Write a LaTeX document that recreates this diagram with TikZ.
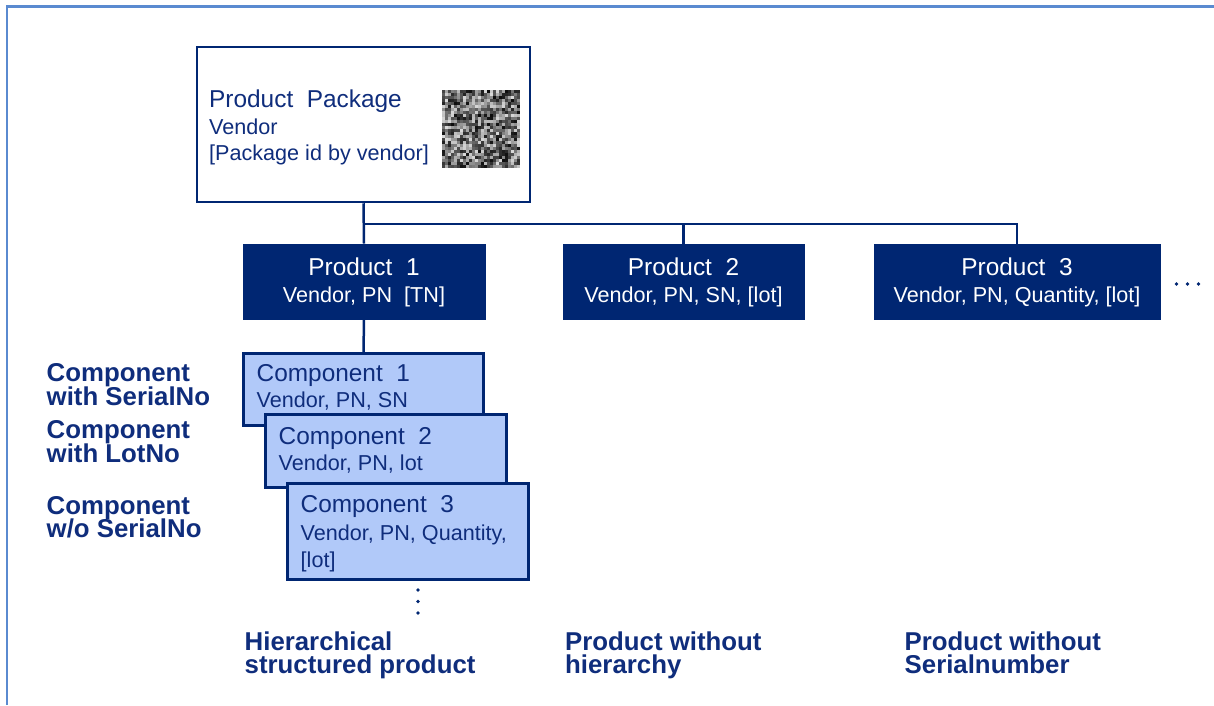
\documentclass[tikz,border=0pt]{standalone}
\usepackage{fontspec}
\setmainfont{Liberation Sans}
\definecolor{navy}{HTML}{002672}
\definecolor{framec}{HTML}{5A8AD0}
\definecolor{compc}{HTML}{B1C9F9}
\definecolor{txtc}{HTML}{0F2D7C}
\tikzset{
  pkgbox/.style={draw=navy, fill=white, line width=2.5pt, inner sep=0pt},
  prodbox/.style={draw=navy, fill=navy, line width=1pt, inner sep=0pt},
  compbox/.style={draw=navy, fill=compc, line width=3pt, inner sep=0pt},
  conn/.style={draw=navy, line width=2.5pt},
  ttl/.style={font=\fontsize{24.4}{28}\selectfont, inner sep=0pt},
  sub/.style={font=\fontsize{21.6}{25}\selectfont, inner sep=0pt},
  lbl/.style={font=\fontsize{25.8}{23.3}\selectfont\bfseries, text=txtc, inner sep=0pt, anchor=base west},
  dotc/.style={fill=navy, draw=none},
}
\begin{document}
\begin{tikzpicture}[x=1pt,y=-1pt]
\useasboundingbox (0,0) rectangle (1214,705);
% frame
\draw[framec, line width=2.8pt] (7,705) -- (7,6.5) -- (1214,6.5);

% package box
\node[pkgbox, minimum width=333pt, minimum height=155pt] (pkg) at (363.5,124.5) {};
\node[ttl, text=txtc, anchor=base west] (pkgt) at (209,107.3) {Product\ \ Package};
\node[sub, text=txtc, anchor=base west] (pkgv) at (209,134) {Vendor};
\node[sub, text=txtc, anchor=base west] (pkgi) at (209,160.5) {[Package id by vendor]};
% QR-like pattern
\node[minimum width=78pt, minimum height=78pt, inner sep=0pt] (qr) at (480.5,128.5) {};
\pgfmathsetseed{11}
\foreach \i in {0,...,25}{
  \foreach \j in {0,...,25}{
    \pgfmathsetmacro\g{int(random(15,95))}
    \fill[black!\g] (441.5+\i*3,89.5+\j*3) rectangle ++(3,3);
  }
}

% products
\node[prodbox, minimum width=242pt, minimum height=75pt] (p1) at (364,281.5) {};
\node[prodbox, minimum width=241pt, minimum height=75pt] (p2) at (683.5,281.5) {};
\node[prodbox, minimum width=286pt, minimum height=75pt] (p3) at (1017,281.5) {};
\node[ttl, text=white, anchor=base] (p1t) at (364,275.7) {Product\ \ 1};
\node[sub, text=white, anchor=base] (p1s) at (364,302) {Vendor, PN\ \ [TN]};
\node[ttl, text=white, anchor=base] (p2t) at (683.5,275.7) {Product\ \ 2};
\node[sub, text=white, anchor=base] (p2s) at (683.5,302) {Vendor, PN, SN, [lot]};
\node[ttl, text=white, anchor=base] (p3t) at (1017,275.7) {Product\ \ 3};
\node[sub, text=white, anchor=base] (p3s) at (1017,302) {Vendor, PN, Quantity, [lot]};

% connectors
\coordinate (bus) at (363.5,224);
\draw[conn] (pkg.south) -- (p1.north);
\draw[conn] (bus) -| (p2.north);
\draw[conn] (bus) -| (p3.north);
\draw[conn] (p1.south) -- (363.5,352);

% components
\node[compbox, minimum width=240pt, minimum height=72pt] (c1) at (363.5,389) {};
\node[ttl, text=txtc, anchor=base west] (c1t) at (256.5,381.7) {Component\ \ 1};
\node[sub, text=txtc, anchor=base west] (c1s) at (256.5,407.3) {Vendor, PN, SN};
\node[compbox, minimum width=241pt, minimum height=73pt] (c2) at (385.5,451.3) {};
\node[ttl, text=txtc, anchor=base west] (c2t) at (278.5,444.3) {Component\ \ 2};
\node[sub, text=txtc, anchor=base west] (c2s) at (278.5,470.7) {Vendor, PN, lot};
\node[compbox, minimum width=241pt, minimum height=96pt] (c3) at (407.5,531.3) {};
\node[ttl, text=txtc, anchor=base west] (c3t) at (300.5,512.3) {Component\ \ 3};
\node[sub, text=txtc, anchor=base west] (c3s) at (300.5,540.7) {Vendor, PN, Quantity,};
\node[sub, text=txtc, anchor=base west] (c3l) at (300.5,567.3) {[lot]};

% ellipses
\fill[dotc] (418,590) circle (1.9pt);
\fill[dotc] (418,601.5) circle (1.9pt);
\fill[dotc] (418,613) circle (1.9pt);
\fill[dotc] (1176.5,284) circle (1.8pt);
\fill[dotc] (1187.5,284) circle (1.8pt);
\fill[dotc] (1198.5,284) circle (1.8pt);

% left labels
\node[lbl] (l1a) at (46.5,381.7) {Component};
\node[lbl] (l1b) at (46.5,405) {with SerialNo};
\node[lbl] (l2a) at (46.5,438.3) {Component};
\node[lbl] (l2b) at (46.5,462.7) {with LotNo};
\node[lbl] (l3a) at (46.5,514) {Component};
\node[lbl] (l3b) at (46.5,537.3) {w/o SerialNo};

% bottom labels
\node[lbl] (b1a) at (244.5,650) {Hierarchical};
\node[lbl] (b1b) at (244.5,673.3) {structured product};
\node[lbl] (b2a) at (565,650) {Product without};
\node[lbl] (b2b) at (565,673.3) {hierarchy};
\node[lbl] (b3a) at (904.5,650) {Product without};
\node[lbl] (b3b) at (904.5,673.3) {Serialnumber};
\end{tikzpicture}
\end{document}
